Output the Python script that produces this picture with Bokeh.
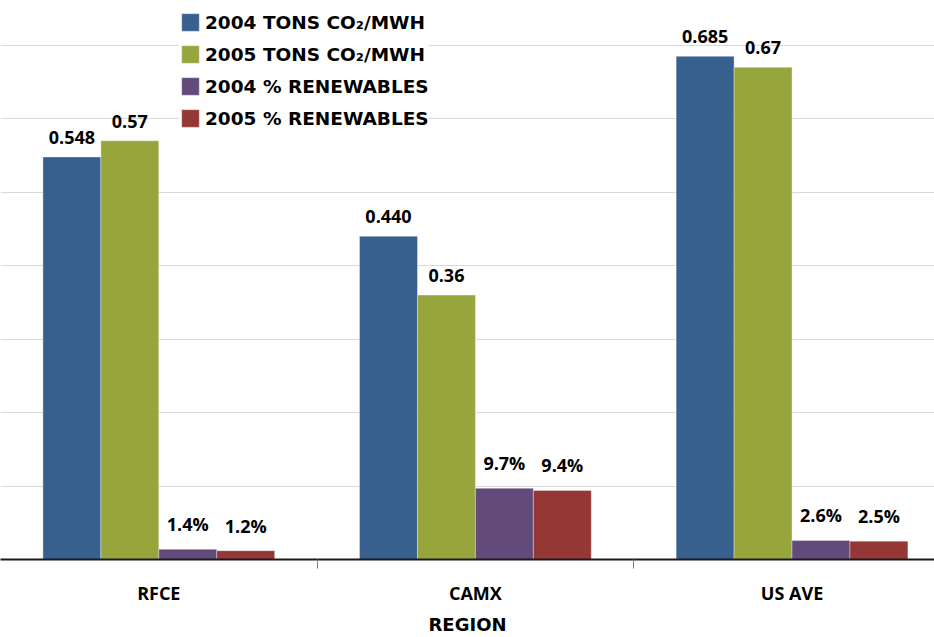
from bokeh.plotting import figure
from bokeh.models import (ColumnDataSource, Range1d, LinearAxis,
                          FixedTicker, LabelSet, Legend)
from bokeh.transform import dodge
from bokeh.core.properties import value
from bokeh.embed import file_html
from bokeh.resources import INLINE

regions = ["RFCE", "CAMX", "US AVE"]
co2_2004 = [0.548, 0.440, 0.685]
co2_2005 = [0.57, 0.36, 0.67]
ren_2004 = [0.014, 0.097, 0.026]
ren_2005 = [0.012, 0.094, 0.025]
lbl_co2_2004 = ["0.548", "0.440", "0.685"]
lbl_co2_2005 = ["0.57", "0.36", "0.67"]
lbl_ren_2004 = ["1.4%", "9.7%", "2.6%"]
lbl_ren_2005 = ["1.2%", "9.4%", "2.5%"]
series_names = ["2004 TONS CO\u2082/MWH", "2005 TONS CO\u2082/MWH",
                "2004 % RENEWABLES", "2005 % RENEWABLES"]
grid_ticks = [0.1, 0.2, 0.3, 0.4, 0.5, 0.6, 0.7]
x_title = "REGION"

colors = ["#37608F", "#97A53D", "#624B7B", "#953735"]

n = len(regions)
centers = [i + 0.5 for i in range(n)]
boundaries = [i for i in range(1, n)]

src = ColumnDataSource(dict(
    pos=centers,
    a=co2_2004, b=co2_2005, c=ren_2004, d=ren_2005,
    la=lbl_co2_2004, lb=lbl_co2_2005, lc=lbl_ren_2004, ld=lbl_ren_2005,
))

p = figure(x_range=Range1d(0, n - 0.05), y_range=Range1d(0, 0.761),
           width=934, height=637, output_backend="svg", toolbar_location=None,
           x_axis_location=None, y_axis_location=None,
           min_border_left=0, min_border_right=0, min_border_top=0,
           min_border_bottom=0)
p.outline_line_color = None
p.background_fill_color = "white"
p.border_fill_color = "white"

p.ygrid.ticker = FixedTicker(ticks=grid_ticks)
p.ygrid.grid_line_color = "#D9D9D9"
p.ygrid.grid_line_width = 1
p.xgrid.grid_line_color = None

bw = 0.183
offsets = [-0.2745, -0.0915, 0.0915, 0.2745]
fields = ["a", "b", "c", "d"]
lfields = ["la", "lb", "lc", "ld"]

renderers = []
for f, off, col in zip(fields, offsets, colors):
    r = p.vbar(x=dodge("pos", off), top=f, width=bw,
               source=src, fill_color=col, line_color="#FFFFFF",
               line_alpha=0.35, line_width=1)
    renderers.append(r)

for lf, f, off in zip(lfields, fields, offsets):
    ls = LabelSet(x=dodge("pos", off), y=f, text=lf,
                  source=src, text_align="center", text_baseline="bottom",
                  y_offset=13, text_font=value("Open Sans"),
                  text_font_style="bold", text_font_size="18px",
                  text_color="#000000")
    p.add_layout(ls)

# axis line with separator ticks between regions
sep_axis = LinearAxis(ticker=FixedTicker(ticks=boundaries),
                      major_label_overrides={b: "" for b in boundaries},
                      major_label_text_font_size="1px",
                      major_label_standoff=0,
                      major_tick_in=0, major_tick_out=9,
                      major_tick_line_color="#7F7F7F",
                      minor_tick_line_color=None,
                      axis_line_color="#1A1A1A", axis_line_width=2)
p.add_layout(sep_axis, "below")

cat_axis = LinearAxis(ticker=FixedTicker(ticks=centers),
                      major_label_overrides={c: r for c, r in zip(centers, regions)},
                      axis_line_color=None, major_tick_line_color=None,
                      minor_tick_line_color=None,
                      major_label_standoff=6,
                      major_label_text_font="Open Sans",
                      major_label_text_font_style="bold",
                      major_label_text_font_size="18px",
                      major_label_text_line_height=1.0,
                      major_label_text_color="#000000",
                      axis_label=x_title,
                      axis_label_standoff=6,
                      axis_label_text_font="DejaVu Sans",
                      axis_label_text_font_style="bold",
                      axis_label_text_font_size="18px",
                      axis_label_text_line_height=1.0,
                      axis_label_text_color="#000000")
p.add_layout(cat_axis, "below")

legend = Legend(items=[(nm, [r]) for nm, r in zip(series_names, renderers)],
                location=(179, 430))
legend.label_text_font = "DejaVu Sans"
legend.label_text_font_style = "bold"
legend.label_text_font_size = "18.5px"
legend.label_text_color = "#000000"
legend.glyph_width = 22
legend.glyph_height = 22
legend.spacing = 10
legend.padding = 4
legend.margin = 0
legend.label_standoff = 4
legend.border_line_color = None
legend.background_fill_color = "white"
legend.background_fill_alpha = 1
p.add_layout(legend, "center")

open("out.html", "w").write(file_html(p, INLINE))
